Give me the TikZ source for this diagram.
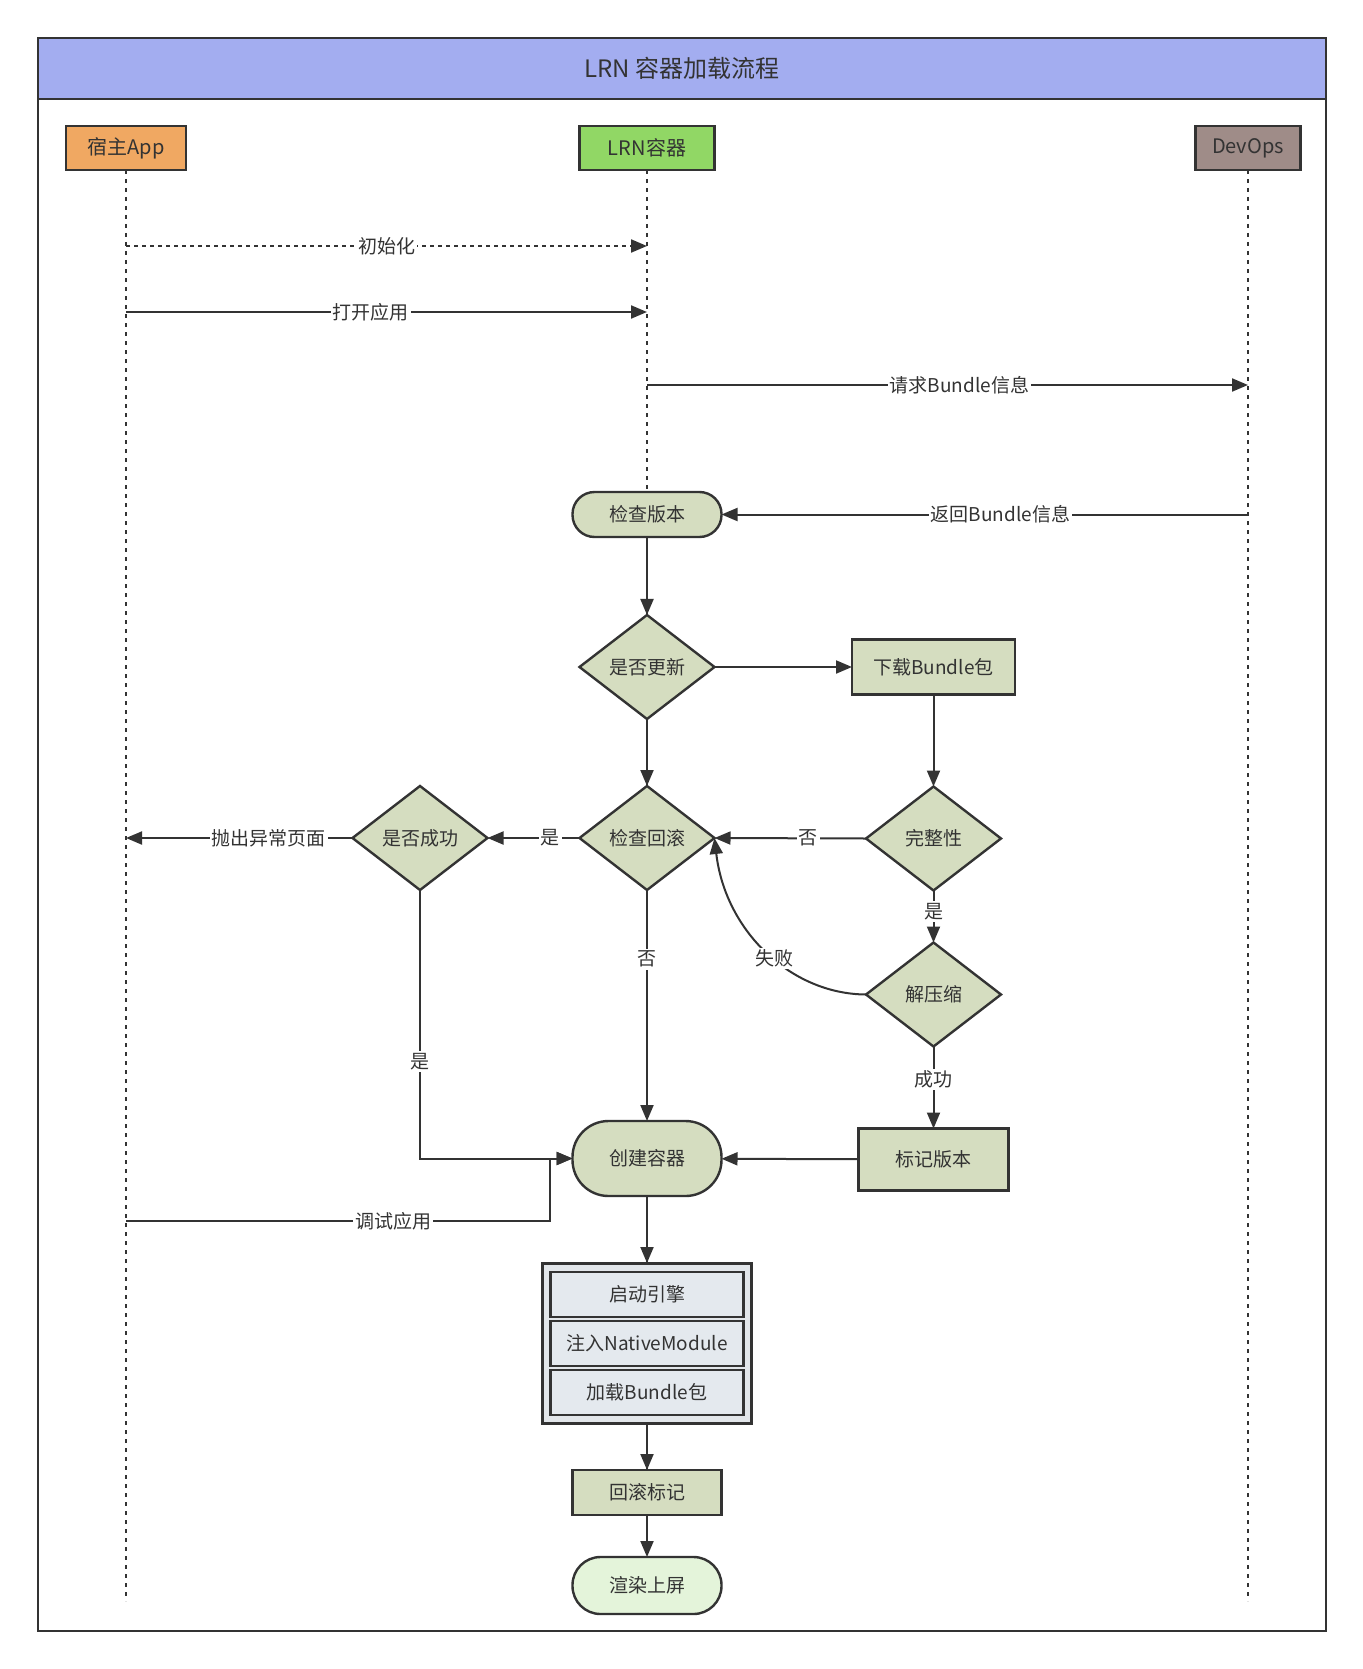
\documentclass[tikz,border=0pt]{standalone}
\usepackage{fontspec}
\setmainfont{Noto Sans CJK SC}
\usetikzlibrary{arrows.meta,positioning,shapes.geometric}

\definecolor{ink}{HTML}{333333}
\definecolor{titlebar}{HTML}{A3ADF0}
\definecolor{hostc}{HTML}{F0A862}
\definecolor{lrnc}{HTML}{91D765}
\definecolor{devc}{HTML}{9F8C88}
\definecolor{sage}{HTML}{D5DDC0}
\definecolor{grpc}{HTML}{E2E6EA}
\definecolor{subc}{HTML}{E4E9EE}
\definecolor{rendc}{HTML}{E4F4DA}

\begin{document}
\begin{tikzpicture}[
  x=0.5pt, y=-0.5pt,
  font=\fontsize{9.5}{11}\selectfont, text=ink,
  head/.style={draw=ink, line width=1.2pt, outer sep=0pt, minimum height=22pt, font=\fontsize{10}{12}\selectfont},
  proc/.style={draw=ink, line width=1.2pt, outer sep=0pt, fill=sage, minimum width=74.5pt, minimum height=22.5pt},
  term/.style={proc, rounded corners=11pt},
  choice/.style={diamond, aspect=1.3, inner sep=1pt, outer sep=0pt, draw=ink, line width=1.2pt, fill=sage, minimum width=67.5pt, minimum height=52pt},
  sub/.style={draw=ink, line width=1.2pt, outer sep=0pt, fill=subc, minimum width=96.5pt, minimum height=22.5pt},
  life/.style={draw=ink, line width=1pt, dash pattern=on 2pt off 2.5pt},
  lbl/.style={fill=white, inner sep=1pt},
  flow/.style={draw=ink, line width=1pt, -{Triangle[length=8pt,width=6.5pt]}}
]
\useasboundingbox (0,0) rectangle (1362,1669);

% frame and title
\node[draw=ink, line width=1.2pt, minimum width=644pt, minimum height=796.5pt, anchor=north west] (frame) at (37,37) {};
\node[draw=ink, line width=1.2pt, fill=titlebar, minimum width=644pt, minimum height=30.5pt, anchor=north west,
  font=\fontsize{12}{14}\selectfont] (title) at (37,37) {LRN 容器加载流程};

% lanes
\node[head, fill=hostc, minimum width=60pt] (host) at (126,148) {宿主App};
\node[head, fill=lrnc, minimum width=67.5pt] (lrn) at (647,148) {LRN容器};
\node[head, fill=devc, minimum width=52.5pt] (dev) at (1248,148) {DevOps};

\coordinate (hostEnd) at (126,1601);
\coordinate (lrnEnd) at (647,1601);
\coordinate (devEnd) at (1248,1601);
\draw[life] (host.south) -- (hostEnd);
\draw[life] (lrn.south) -- (lrnEnd);
\draw[life] (dev.south) -- (devEnd);

% flow nodes
\node[term, below=161pt of lrn] (chk) {检查版本};
\node[choice, below=39pt of chk] (upd) {是否更新};
\node[choice, below=33.5pt of upd] (rb) {检查回滚};
\node[term, below=115.5pt of rb, minimum height=37.5pt, rounded corners=18pt] (create) {创建容器};
\node[draw=ink, line width=1.5pt, outer sep=0pt, fill=grpc, minimum width=104.5pt, minimum height=80pt, below=33.5pt of create] (grp) {};
\node[sub, below=4.5pt of grp.north] (eng) {启动引擎};
\node[sub, below=2pt of eng] (nat) {注入NativeModule};
\node[sub, below=2pt of nat] (bun) {加载Bundle包};
\node[proc, below=23.5pt of grp] (rbm) {回滚标记};
\node[term, fill=rendc, minimum height=28.5pt, rounded corners=14pt, below=21pt of rbm] (render) {渲染上屏};

\node[proc, right=68.75pt of upd, minimum width=81.5pt, minimum height=27.5pt] (dl) {下载Bundle包};
\node[choice, below=46pt of dl] (intg) {完整性};
\node[choice, below=26pt of intg] (unz) {解压缩};
\node[proc, below=41pt of unz, minimum width=75pt, minimum height=31pt] (mark) {标记版本};
\node[choice, left=46pt of rb] (ok) {是否成功};

% messages
\coordinate (hInit) at (126,246);
\coordinate (lInit) at (647,246);
\coordinate (hOpen) at (126,312);
\coordinate (lOpen) at (647,312);
\coordinate (lReq) at (647,385);
\coordinate (dReq) at (1248,385);
\coordinate (hDbg) at (126,1221);
\coordinate (dbgTurn) at (550,1221);

\draw[flow, dash pattern=on 2pt off 2pt] (hInit) -- node[lbl]{初始化} (lInit);
\draw[flow] (hOpen) -- node[lbl, pos=0.47]{打开应用} (lOpen);
\draw[flow] (lReq) -- node[lbl, pos=0.52]{请求Bundle信息} (dReq);
\draw[flow] (dev |- chk) -- node[lbl, pos=0.47]{返回Bundle信息} (chk.east);

% flow
\draw[flow] (chk) -- (upd);
\draw[flow] (upd) -- (dl);
\draw[flow] (upd) -- (rb);
\draw[flow] (dl) -- (intg);
\draw[flow] (intg.west) -- node[lbl, pos=0.38]{否} (rb.east);
\draw[flow] (intg) -- node[lbl, pos=0.4]{是} (unz);
\draw[flow] (unz.west) .. controls (790,994) and (725,930) .. node[lbl, pos=0.45]{失败} (rb.east);
\draw[flow] (unz) -- node[lbl, pos=0.4]{成功} (mark);
\draw[flow] (mark) -- (create);
\draw[flow] (rb.west) -- node[lbl, pos=0.32]{是} (ok.east);
\draw[flow] (ok.west) -- node[lbl, pos=0.37]{抛出异常页面} (host |- ok);
\draw[flow] (rb) -- node[lbl, pos=0.3]{否} (create);
\draw[flow] (ok.south) |- node[lbl, pos=0.32]{是} (create.west);
\draw[flow] (hDbg) -- node[lbl, pos=0.63]{调试应用} (dbgTurn) |- (create.west);
\draw[flow] (create) -- (grp);
\draw[flow] (grp) -- (rbm);
\draw[flow] (rbm) -- (render);
\end{tikzpicture}
\end{document}
